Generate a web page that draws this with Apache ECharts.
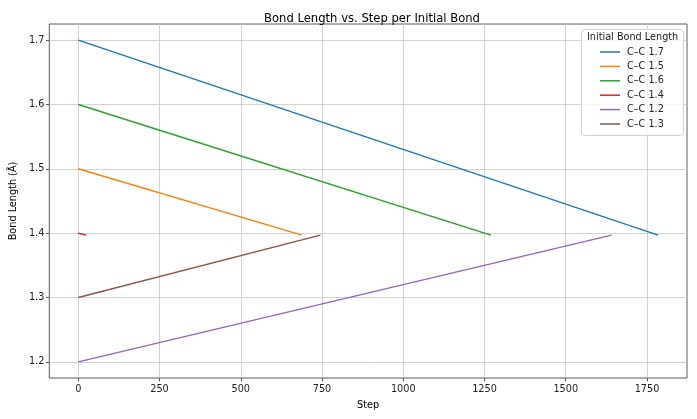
<!DOCTYPE html>
<html>
<head>
<meta charset="utf-8">
<script src="https://cdn.jsdelivr.net/npm/echarts@6/dist/echarts.min.js"></script>
<style>html,body{margin:0;padding:0;background:#fff}#c{width:697px;height:419px}</style>
</head>
<body>
<div id="c"></div>
<script>
// Series names and colours (legend order)
const seriesNames = ['C–C 1.7', 'C–C 1.5', 'C–C 1.6', 'C–C 1.4', 'C–C 1.2', 'C–C 1.3'];
const seriesColors = ['#1f77b4', '#ff7f0e', '#2ca02c', '#d62728', '#9467bd', '#8c564b'];
// Step values (start, end)
const stepsCC17 = [0, 1784];
const stepsCC15 = [0, 688];
const stepsCC16 = [0, 1270];
const stepsCC14 = [0, 25];
const stepsCC12 = [0, 1641];
const stepsCC13 = [0, 745];
// Bond length values (start, end)
const bondCC17 = [1.7, 1.397];
const bondCC15 = [1.5, 1.397];
const bondCC16 = [1.6, 1.397];
const bondCC14 = [1.4, 1.397];
const bondCC12 = [1.2, 1.397];
const bondCC13 = [1.3, 1.397];
// Tick labels
const xTicks = [0, 250, 500, 750, 1000, 1250, 1500, 1750];
const yTicks = [1.2, 1.3, 1.4, 1.5, 1.6, 1.7];

const stepsAll = [stepsCC17, stepsCC15, stepsCC16, stepsCC14, stepsCC12, stepsCC13];
const bondAll = [bondCC17, bondCC15, bondCC16, bondCC14, bondCC12, bondCC13];

const font = 'DejaVu Sans';
const fs = 9.7;
const chart = echarts.init(document.getElementById('c'), null, {renderer: 'canvas'});

const series = seriesNames.map((name, i) => ({
  name: name,
  type: 'line',
  data: stepsAll[i].map((s, j) => [s, bondAll[i][j]]),
  showSymbol: false,
  symbol: 'none',
  lineStyle: {width: 1.45, color: seriesColors[i]},
  itemStyle: {color: seriesColors[i]},
  animation: false
}));

chart.setOption({
  animation: false,
  textStyle: {fontFamily: font},
  title: {
    text: 'Bond Length vs. Step per Initial Bond',
    left: 367, top: 8, textAlign: 'center',
    textStyle: {fontFamily: font, fontSize: 11.6, fontWeight: 'normal', color: '#000'}
  },
  grid: {
    left: 47, right: 10, top: 24, bottom: 41,
    show: true, borderColor: '#333', borderWidth: 0.8, backgroundColor: 'transparent'
  },
  xAxis: {
    type: 'value',
    min: -89.2, max: 1873.2,
    name: 'Step', nameLocation: 'middle', nameGap: 22,
    nameTextStyle: {fontFamily: font, fontSize: fs, color: '#000'},
    axisLine: {show: false, onZero: false},
    axisTick: {show: true, customValues: xTicks, length: 3.4, inside: false, lineStyle: {color: '#333', width: 0.8}},
    axisLabel: {customValues: xTicks, fontFamily: font, fontSize: fs, color: '#222', margin: 6,
      formatter: v => String(v)},
    splitLine: {show: true, lineStyle: {color: '#c8c8c8', width: 0.8}}
  },
  yAxis: {
    type: 'value',
    min: 1.175, max: 1.725,
    name: 'Bond Length (Å)', nameLocation: 'middle', nameGap: 21, nameRotate: 90,
    nameTextStyle: {fontFamily: font, fontSize: fs, color: '#000'},
    axisLine: {show: false, onZero: false},
    axisTick: {show: true, customValues: yTicks, length: 3.4, lineStyle: {color: '#333', width: 0.8}},
    axisLabel: {customValues: yTicks, fontFamily: font, fontSize: fs, color: '#222', margin: 5,
      formatter: v => v.toFixed(1)},
    splitLine: {show: true, lineStyle: {color: '#c8c8c8', width: 0.8}}
  },
  legend: {
    data: seriesNames,
    orient: 'vertical',
    left: 600, top: 46,
    z: 100,
    itemWidth: 20, itemHeight: 1.5, itemGap: 2.4,
    icon: 'rect',
    padding: 0,
    textStyle: {fontFamily: font, fontSize: fs, color: '#222', lineHeight: 12, padding: [0, 0, 0, 2]}
  },
  graphic: [
    {type: 'rect', left: 581, top: 29, z: 50, silent: true,
      shape: {width: 102, height: 106, r: 3},
      style: {fill: 'rgba(255,255,255,0.8)', stroke: '#d0d0d0', lineWidth: 1}},
    {type: 'text', left: 587, top: 32, z: 51, silent: true,
      style: {text: 'Initial Bond Length', font: fs + 'px "DejaVu Sans"', fill: '#222'}}
  ],
  series: series
});
</script>
</body>
</html>
